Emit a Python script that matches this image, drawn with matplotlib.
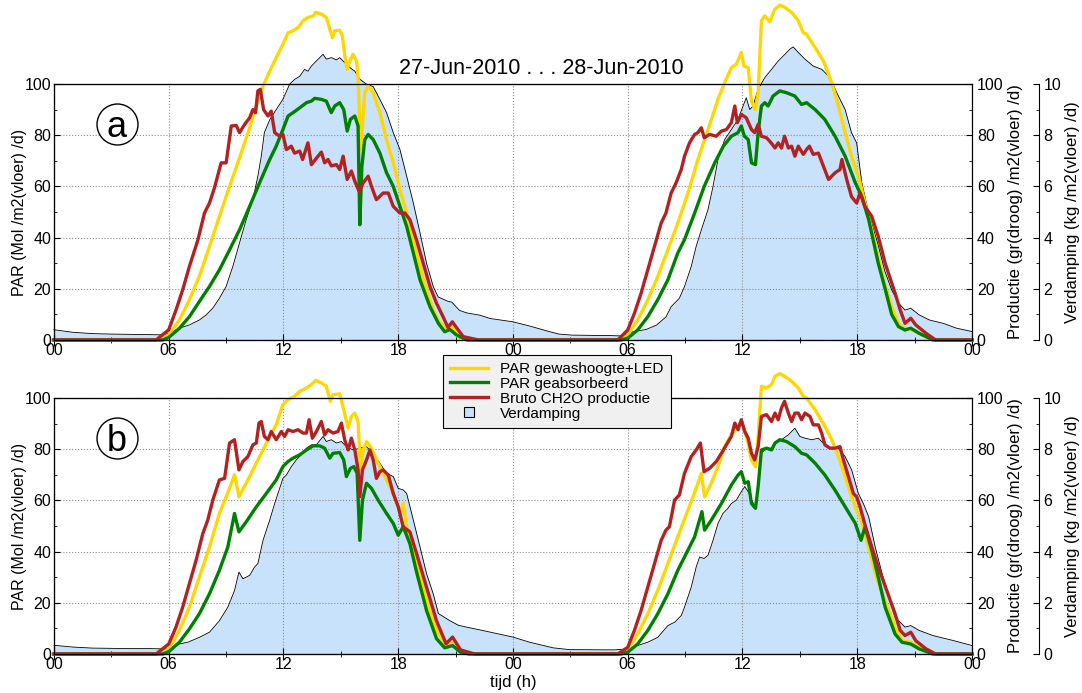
import matplotlib.pyplot as plt
from matplotlib.lines import Line2D
from matplotlib.ticker import MultipleLocator

plt.rcParams['font.family'] = ['Liberation Sans', 'DejaVu Sans']
plt.rcParams['font.size'] = 11

YELLOW = '#FFD700'
GREEN = '#008000'
RED = '#B22222'
BLUE = '#C8E2FC'

hour_labels = ['00', '06', '12', '18', '00', '06', '12', '18', '00']

# ---- paneel a ----
a_led_t = [0, 5.5, 6.0, 6.56, 7.08, 7.6, 8.13, 8.65, 9.18, 9.7, 10.23, 10.58, 10.93, 11.28, 11.62, 11.97,
           12.24, 12.5, 12.76, 13.02, 13.28, 13.55, 13.69, 13.98, 14.24, 14.45, 14.56, 14.68, 14.94, 15.08,
           15.2, 15.33, 15.47, 15.64, 15.82, 15.9, 16.03, 16.13, 16.25, 16.43, 16.69, 17.04, 17.39, 17.74,
           18.09, 18.44, 18.79, 19.14, 19.48, 19.83, 20.15, 20.5, 20.8, 21.2, 21.7,
           29.65, 30.0, 30.52, 31.05, 31.57, 32.1, 32.62, 33.15, 33.67, 34.2, 34.72, 35.07, 35.42, 35.68,
           35.94, 36.08, 36.3, 36.47, 36.68, 36.82, 36.99, 37.17, 37.43, 37.69, 37.95, 38.22, 38.57, 38.92,
           39.18, 39.35, 39.8, 40.23, 40.67, 41.02, 41.37, 41.7, 42.06, 42.41, 42.76, 43.1, 43.44, 43.8,
           44.16, 44.5, 44.7, 45.06, 45.96, 48]
a_led = [0, 0, 2, 7.8, 15.7, 24.8, 36.6, 48.3, 60, 71.1, 82.9, 91.4, 99.2, 105, 110.3, 115.5,
         120, 120.8, 122, 124.7, 126, 126.6, 128, 127.3, 126, 120.8, 118.1, 120.8, 121, 118.8,
         111.6, 105.7, 109, 111.6, 109, 103, 74.4, 83.6, 96.6, 99.2, 96.6, 88.8, 78.3, 69.2,
         58.7, 49.6, 39, 28.7, 19.6, 11.7, 7, 4.5, 5.2, 1, 0,
         0, 2, 7.8, 15.7, 24.8, 35.2, 45.7, 57.4, 70.5, 82.2, 94, 100.5, 106.4, 107.7,
         112.3, 107, 106.4, 93.3, 90, 96.6, 124.7, 126.6, 124.3, 129.2, 130.8, 129.9, 128, 124.7,
         120, 119.5, 114.2, 109, 100.5, 91.4, 81, 71.8, 64, 53.5, 43, 32.6, 22, 13,
         6.5, 4.2, 4.6, 3.3, 0, 0]

a_abs_t = [0, 5.69, 6.0, 6.56, 7.08, 7.6, 8.13, 8.65, 9.18, 9.7, 10.23, 10.75, 11.28, 11.62, 11.97,
           12.24, 12.5, 12.85, 13.2, 13.46, 13.63, 13.98, 14.24, 14.5, 14.68, 14.94, 15.15, 15.33, 15.5,
           15.73, 15.9, 15.99, 16.1, 16.25, 16.43, 16.69, 17.04, 17.39, 17.74, 18.09, 18.44, 18.79, 19.14,
           19.66, 20.1, 20.43, 20.7, 21.04, 21.6,
           29.65, 30.0, 30.52, 31.05, 31.57, 32.1, 32.62, 32.97, 33.5, 34.0, 34.55, 35.0, 35.42, 35.77,
           35.94, 36.1, 36.3, 36.47, 36.68, 36.82, 36.99, 37.17, 37.34, 37.6, 37.95, 38.3, 38.74, 39.09,
           39.35, 39.8, 40.3, 40.84, 41.37, 41.9, 42.24, 42.6, 43.1, 43.46, 43.8, 44.16, 44.5, 44.8,
           45.24, 45.96, 48]
a_abs = [0, 0, 1, 4.6, 9.1, 15, 20.9, 27.4, 35.2, 43, 52.2, 61.4, 70.5, 75.7, 82.2,
         87.5, 88.8, 90.7, 92.7, 93.3, 94.4, 94, 93.3, 88.8, 91.4, 92.7, 90, 81.6, 86.2,
         87.5, 83.6, 45, 67.9, 78.3, 80.3, 78.3, 73, 65.3, 60, 52.2, 44.4, 34, 23.5,
         13, 6.5, 3.2, 4.1, 2, 0,
         0, 0.7, 3.9, 9.1, 15.7, 23.5, 34, 39.2, 49.6, 60, 69.2, 75.7, 79.6, 81,
         83.6, 79.6, 78.3, 69.2, 68.5, 81, 91.4, 92.7, 91.4, 95.3, 97.3, 96.6, 95.3, 92,
         92.7, 90, 86.2, 79.6, 71.8, 61.4, 56, 47, 30, 20, 10, 5.2, 3.9, 4.6,
         2.6, 0, 0]

a_bru_t = [0, 5.34, 6.0, 6.38, 6.73, 7.08, 7.52, 7.87, 8.13, 8.39, 8.74, 9.0, 9.27, 9.53, 9.7, 9.97,
           10.23, 10.4, 10.54, 10.66, 10.79, 10.96, 11.19, 11.36, 11.54, 11.8, 11.97, 12.15, 12.41, 12.58,
           12.85, 13.0, 13.28, 13.46, 13.72, 13.98, 14.15, 14.33, 14.5, 14.77, 14.94, 15.12, 15.33, 15.55,
           15.73, 15.96, 16.17, 16.43, 16.6, 16.86, 17.21, 17.48, 17.74, 18.09, 18.35, 18.61, 18.96, 19.31,
           19.66, 20.0, 20.35, 20.6, 20.83, 21.04, 21.4, 22.2,
           29.48, 30.0, 30.35, 30.7, 31.05, 31.4, 31.75, 32.0, 32.27, 32.53, 32.8, 32.97, 33.23, 33.5,
           33.67, 33.85, 34.0, 34.28, 34.63, 34.9, 35.16, 35.42, 35.6, 35.73, 35.94, 36.2, 36.47, 36.64,
           36.82, 36.99, 37.26, 37.5, 37.7, 37.87, 38.04, 38.2, 38.4, 38.57, 38.74, 38.92, 39.18, 39.35,
           39.5, 39.7, 39.97, 40.23, 40.5, 40.84, 41.1, 41.2, 41.45, 41.7, 41.97, 42.15, 42.4, 42.76,
           43.1, 43.46, 43.98, 44.25, 44.5, 44.8, 45.06, 45.6, 46.1, 48]
a_bru = [0, 0, 4, 11.7, 19.6, 28.7, 39, 49.6, 53.5, 59.4, 69.2, 69.2, 83.6, 83.8, 81, 84.2,
         86.8, 90, 88.8, 97.3, 97.9, 90, 87.5, 89.4, 81, 79.6, 80.3, 74.4, 75.7, 73,
         73.8, 70.5, 77, 68.5, 71, 73.4, 69.2, 70.5, 68, 68.5, 66.6, 71.8, 62.7, 66,
         62, 58, 61.4, 64, 60, 54.8, 57.4, 57.4, 52.2, 49.6, 49.6, 47, 39, 30,
         20.9, 14.4, 9, 4.9, 7.1, 4.9, 1.3, 0,
         0, 3.9, 10.4, 18.3, 27.4, 36.6, 45.7, 49.6, 57.4, 61.4, 66.6, 71.8, 77, 80.3,
         81, 82.9, 79, 80.3, 79.6, 81.6, 82.2, 84.9, 91.4, 84.9, 88.1, 86.8, 82.2, 81,
         84.2, 79.6, 79, 77, 75, 77, 75, 79.6, 75, 75.7, 71.8, 75.7, 72.5, 74.4,
         75.7, 72.5, 73, 67.9, 62.7, 65.3, 66.6, 70.5, 62.7, 56, 53.5, 57.4, 52.2, 48.3,
         40.5, 30, 18.3, 11.7, 6.5, 8.5, 5.9, 2.6, 0, 0]

a_verd_t = [0, 1, 2, 3, 4, 5, 5.7, 6.0, 6.56, 7.08, 7.6, 7.96, 8.3, 8.65, 9.0, 9.35, 9.7, 10.05,
            10.4, 10.66, 10.84, 11.0, 11.28, 11.62, 11.97, 12.32, 12.58, 12.85, 13.1, 13.28, 13.46,
            13.72, 14.07, 14.24, 14.5, 14.77, 14.94, 15.2, 15.47, 15.73, 16.0, 16.35, 16.69, 17.04,
            17.39, 17.74, 18.09, 18.44, 18.79, 19.14, 19.48, 19.83, 20.09, 20.6, 20.8, 21.2, 21.57,
            22.26, 22.8, 24, 24.9, 25.74, 26.4, 27.1, 29.2, 29.56, 30.0, 30.26, 30.96, 31.5,
            32.0, 32.27, 32.45, 32.7, 32.97, 33.32, 33.58, 33.85, 34.2, 34.46, 34.72, 35.07, 35.42,
            35.77, 36.03, 36.2, 36.38, 36.55, 36.82, 37.17, 37.52, 37.87, 38.22, 38.48, 38.65, 38.92,
            39.27, 39.7, 40.15, 40.58, 40.93, 41.37, 41.7, 41.97, 42.24, 42.6, 43.1, 43.44, 43.8,
            44.16, 44.5, 44.8, 45.24, 45.78, 46.5, 47.2, 48]
a_verd = [0.40, 0.30, 0.25, 0.23, 0.22, 0.21, 0.20, 0.26, 0.46, 0.59, 0.78, 0.98, 1.24, 1.63, 2.09, 2.87,
          3.79, 4.70, 5.48, 6.40, 7.18, 8.10, 8.60, 9.00, 9.40, 9.99, 10.18, 10.30, 10.57, 10.50, 10.70,
          10.90, 11.16, 10.97, 11.03, 10.94, 11.03, 10.84, 10.64, 10.50, 10.18, 9.99, 9.90, 9.40,
          8.88, 8.10, 7.44, 6.40, 5.35, 4.18, 3.00, 2.09, 1.68, 1.51, 1.48, 1.16, 1.06,
          0.97, 0.84, 0.71, 0.54, 0.36, 0.23, 0.19, 0.17, 0.16, 0.22, 0.32, 0.41, 0.58,
          0.90, 1.30, 1.44, 1.63, 2.09, 2.87, 3.66, 4.30, 5.10, 6.00, 7.05, 7.83, 8.22,
          8.62, 9.14, 9.46, 9.00, 9.14, 9.80, 10.25, 10.57, 10.90, 11.16, 11.36, 11.45, 11.23,
          10.97, 10.70, 10.57, 10.25, 9.66, 9.00, 8.10, 7.70, 6.14, 4.96, 3.70, 2.70, 1.96,
          1.44, 1.17, 1.24, 0.98, 0.78, 0.65, 0.46, 0.33]

# ---- paneel b ----
b_led_t = [0, 5.51, 6.0, 6.56, 7.08, 7.6, 8.13, 8.65, 9.18, 9.44, 9.67, 10.05, 10.49, 10.93, 11.28,
           11.62, 11.97, 12.24, 12.58, 12.85, 13.2, 13.46, 13.69, 13.98, 14.24, 14.45, 14.59, 14.94,
           15.15, 15.38, 15.55, 15.73, 15.9, 16.03, 16.17, 16.34, 16.6, 16.86, 17.13, 17.39, 17.74,
           18.0, 18.17, 18.26, 18.44, 18.7, 19.05, 19.48, 20.0, 20.5, 20.84, 21.26, 21.7,
           29.65, 30.0, 30.52, 31.05, 31.57, 32.1, 32.62, 33.15, 33.67, 33.85, 34.02, 34.37, 34.72,
           35.07, 35.42, 35.68, 35.94, 36.12, 36.3, 36.47, 36.68, 36.82, 36.99, 37.26, 37.52, 37.7,
           37.95, 38.2, 38.57, 38.92, 39.18, 39.35, 39.8, 40.31, 40.67, 41.02, 41.37, 41.71, 41.97,
           42.15, 42.6, 42.94, 43.44, 43.98, 44.34, 44.8, 45.24, 45.96, 48]
b_led = [0, 0, 2, 9.2, 18.3, 30, 41.8, 54.9, 64.7, 70, 61.4, 66.7, 73.2, 79.7, 85,
         89.5, 97.4, 99.3, 100.7, 102.6, 103.9, 105.2, 106.9, 105.9, 104.6, 98.7, 101.3, 101.6,
         95.4, 88.2, 92.8, 94.1, 90.8, 71.9, 79.7, 83, 80.4, 75.8, 71.9, 68, 62.7,
         57.5, 55.6, 58.8, 49.7, 43.1, 34, 20.9, 9.2, 3.5, 4.5, 1, 0,
         0, 1.6, 7.8, 15.7, 24.8, 35.3, 45.8, 56.2, 66.7, 70.6, 61.4, 66.7, 73.2,
         81, 85.6, 88.2, 90.8, 86.9, 82.4, 75.8, 73.2, 85, 104.6, 103.9, 105.2, 108.5,
         109.5, 108.5, 106.5, 103.9, 100.7, 100, 95.4, 88.9, 83.7, 77.1, 69.3, 61.4, 56.2,
         53.6, 41.8, 31.4, 21, 10.5, 5.2, 4.6, 2.6, 0, 0]

b_abs_t = [0, 5.69, 6.0, 6.56, 7.08, 7.6, 8.13, 8.65, 9.09, 9.44, 9.67, 10.05, 10.58, 11.1, 11.62,
           11.97, 12.24, 12.5, 12.85, 13.2, 13.55, 13.9, 14.15, 14.42, 14.59, 14.94, 15.15, 15.29,
           15.5, 15.68, 15.85, 15.99, 16.13, 16.34, 16.6, 16.95, 17.39, 17.74, 18.0, 18.26, 18.61,
           18.96, 19.48, 20.0, 20.43, 20.84, 21.26, 21.7,
           29.65, 30.0, 30.52, 31.05, 31.57, 32.1, 32.62, 32.97, 33.5, 33.88, 34.02, 34.37, 34.9,
           35.42, 35.77, 35.94, 36.12, 36.3, 36.47, 36.68, 36.82, 36.99, 37.26, 37.52, 37.7, 37.95,
           38.3, 38.74, 39.09, 39.35, 39.8, 40.31, 40.84, 41.37, 41.9, 42.2, 42.41, 42.76, 43.1,
           43.46, 43.98, 44.34, 44.8, 45.24, 45.96, 48]
b_abs = [0, 0, 0.9, 4.6, 9.8, 15.7, 23.5, 32.7, 41.8, 54.9, 47.7, 51.6, 57.5, 62.7, 68,
         73.2, 75.2, 76.5, 77.8, 79.7, 81.3, 81.3, 80.4, 76.5, 78.4, 78.7, 75.8, 69.3,
         72.5, 73.2, 70.6, 44.4, 60.1, 66.7, 64.7, 60.1, 54.9, 51, 46.4, 49.7, 43.1,
         32, 17, 6, 2.4, 3.3, 0.7, 0,
         0, 0.7, 3.9, 9.2, 15.7, 23.5, 32.7, 37.9, 45.8, 55.6, 48.4, 52.3, 58.8,
         66, 69.9, 71.2, 66.7, 67.3, 58.8, 56.9, 65.4, 79.7, 80.4, 79.7, 82.4, 83.7,
         83, 81, 78.4, 77.8, 74.5, 69.9, 64, 57.5, 51, 44.4, 49.7, 40.5, 30,
         18.3, 7.8, 4.6, 3.9, 2, 0, 0]

b_bru_t = [0, 5.34, 6.0, 6.38, 6.73, 7.08, 7.43, 7.78, 8.04, 8.3, 8.65, 8.92, 9.18, 9.44, 9.67,
           9.88, 10.14, 10.4, 10.58, 10.72, 10.84, 11.0, 11.19, 11.36, 11.62, 11.89, 12.06, 12.24,
           12.5, 12.76, 13.02, 13.2, 13.34, 13.51, 13.72, 13.98, 14.15, 14.33, 14.59, 14.85, 15.03,
           15.2, 15.38, 15.55, 15.73, 15.9, 15.99, 16.13, 16.34, 16.52, 16.69, 16.86, 17.04, 17.21,
           17.48, 17.74, 18.0, 18.26, 18.61, 18.96, 19.48, 20.0, 20.5, 20.84, 21.26, 22.0,
           29.48, 30.0, 30.35, 30.7, 31.05, 31.4, 31.75, 32.0, 32.18, 32.45, 32.7, 32.97, 33.32,
           33.58, 33.8, 33.99, 34.28, 34.63, 34.9, 35.16, 35.42, 35.6, 35.77, 35.94, 36.12, 36.3,
           36.47, 36.64, 36.82, 36.99, 37.26, 37.52, 37.7, 37.87, 38.04, 38.2, 38.4, 38.57, 38.74,
           38.92, 39.09, 39.27, 39.53, 39.7, 39.97, 40.14, 40.31, 40.58, 40.84, 41.1, 41.28, 41.54,
           41.8, 41.97, 42.15, 42.41, 42.76, 43.1, 43.44, 43.98, 44.25, 44.5, 44.8, 45.06, 45.6,
           46.1, 48]
b_bru = [0, 0, 3.9, 10.5, 18.3, 27.5, 36.6, 47, 52.3, 60, 68, 68.6, 82.4, 83.7, 71.9,
         75.2, 77.1, 81.7, 82.4, 90.2, 90.8, 85, 83.7, 86.9, 83.7, 86.9, 85, 87.6,
         86.9, 87.6, 86.3, 86.3, 91.5, 84.3, 86.9, 90.8, 85.6, 87.6, 86.3, 86.9, 90.2,
         83.7, 79.7, 84.3, 79.7, 71.9, 61.4, 71.9, 75.8, 79.7, 75.8, 68.6, 71.2, 71.9,
         69.9, 62.7, 57.5, 49.7, 47.7, 39.2, 26.1, 13, 4, 6.6, 1.6, 0,
         0, 2.6, 9.2, 17, 26.1, 35.3, 44.4, 48.4, 49.7, 60.1, 62.1, 70.6, 77.1,
         79.7, 82.4, 71.2, 72.5, 75.2, 78.4, 81.7, 85, 90.2, 87.6, 91.5, 86.9, 84.3,
         78.4, 75.8, 81, 92.8, 93.5, 90.8, 94.1, 91.5, 96.1, 98.7, 94.1, 90.8, 94.1,
         94.1, 91.5, 94.1, 92.8, 89.5, 89.5, 86.3, 81.7, 80.4, 80.4, 81, 75.8, 69.3,
         62.7, 61.4, 57.5, 50.3, 41.8, 34, 27, 15.7, 9.2, 7.2, 8.5, 5.2, 2,
         0, 0]

b_verd_t = [0, 1, 2, 3, 4, 5, 5.7, 6.0, 6.56, 7.0, 7.6, 8.13, 8.65, 9.09, 9.44, 9.67, 9.88, 10.23,
            10.49, 10.66, 10.93, 11.28, 11.54, 11.8, 11.97, 12.15, 12.41, 12.67, 12.93, 13.2, 13.46,
            13.72, 14.07, 14.24, 14.5, 14.77, 15.03, 15.29, 15.64, 15.99, 16.34, 16.69, 17.04, 17.39,
            17.74, 18.0, 18.26, 18.44, 18.79, 19.14, 19.48, 19.83, 20.1, 20.7, 21.15, 21.57, 22.4,
            23.2, 24, 24.87, 26.1, 26.96, 29.3, 30.0, 30.52, 31.05, 31.57, 32.1, 32.45, 32.8,
            32.97, 33.32, 33.58, 33.76, 33.99, 34.2, 34.46, 34.72, 34.98, 35.24, 35.42, 35.68, 35.94,
            36.12, 36.3, 36.47, 36.68, 36.82, 36.99, 37.26, 37.52, 37.78, 38.04, 38.4, 38.74, 39.0,
            39.27, 39.62, 39.97, 40.31, 40.67, 41.02, 41.37, 41.71, 42.06, 42.32, 42.6, 42.94, 43.3,
            43.98, 44.5, 44.8, 45.24, 45.96, 47.05, 48]
b_verd = [0.34, 0.27, 0.23, 0.22, 0.21, 0.21, 0.20, 0.22, 0.39, 0.46, 0.65, 0.85, 1.30, 1.83, 2.48, 3.20,
          2.94, 3.07, 3.40, 3.53, 4.44, 5.23, 5.88, 6.47, 6.86, 6.99, 7.32, 7.58, 7.78, 8.04, 8.17,
          8.17, 8.50, 8.30, 8.37, 8.24, 8.30, 8.10, 7.97, 8.04, 8.10, 7.84, 7.45, 7.06,
          6.93, 6.47, 6.41, 6.27, 5.23, 4.18, 3.14, 2.35, 1.58, 1.30, 1.12, 1.05, 0.92,
          0.79, 0.66, 0.46, 0.24, 0.17, 0.16, 0.20, 0.33, 0.46, 0.65, 1.11, 1.24, 1.50,
          1.83, 2.61, 3.40, 3.79, 3.73, 3.86, 4.44, 5.10, 5.49, 5.69, 5.88, 6.01, 6.34,
          6.54, 6.34, 6.01, 5.75, 6.80, 7.84, 8.04, 8.04, 8.30, 8.37, 8.56, 8.82, 8.50,
          8.43, 8.37, 8.43, 8.17, 8.04, 8.04, 7.71, 7.19, 6.27, 5.88, 5.36, 4.18, 3.14,
          1.44, 1.05, 1.11, 0.92, 0.72, 0.52, 0.33]


def draw_panel(rect, led_t, led, abs_t, absorbed, bru_t, bruto, verd_t, verd, letter, xlabel=False):
    ax = fig.add_axes(rect)
    ax_v = ax.twinx()   # verdamping, buitenste as, onderop getekend
    ax_p = ax.twinx()   # productie
    ax_v.set_zorder(1)
    ax.set_zorder(2)
    ax_p.set_zorder(3)
    ax.patch.set_visible(False)

    ax_v.spines['right'].set_position(('outward', 48))
    ax_v.fill_between(verd_t, verd, color=BLUE, lw=0, clip_on=False)
    ax_v.plot(verd_t, verd, color='black', lw=0.6, clip_on=False)
    ax_v.set_ylim(0, 10)
    ax_v.yaxis.set_major_locator(MultipleLocator(2))
    ax_v.yaxis.set_minor_locator(MultipleLocator(1))
    ax_v.xaxis.set_visible(True)
    ax_v.tick_params(axis='x', which='both', length=0, labelbottom=False, labeltop=False)
    ax_v.tick_params(axis='y', which='both', direction='in')
    ax_v.grid(True, which='major', ls=':', color='#8c8c8c', lw=0.8)
    ax_v.set_ylabel('Verdamping (kg /m2(vloer) /d)', labelpad=3, fontsize=12)

    ax.plot(led_t, led, color=YELLOW, lw=2.4, clip_on=False)
    ax.plot(abs_t, absorbed, color=GREEN, lw=2.4, clip_on=False)
    ax_p.plot(bru_t, bruto, color=RED, lw=2.4, clip_on=False)

    ax.set_xlim(0, 48)
    ax.set_ylim(0, 100)
    ax_p.set_ylim(0, 100)
    ax.set_xticks(range(0, 49, 6))
    ax.set_xticklabels(hour_labels)
    ax.xaxis.set_minor_locator(MultipleLocator(3))
    for a in (ax, ax_p):
        a.yaxis.set_major_locator(MultipleLocator(20))
        a.yaxis.set_minor_locator(MultipleLocator(10))
    ax.tick_params(which='both', direction='in', top=False, right=False, pad=2)
    ax_p.tick_params(which='both', direction='in')
    for a in (ax, ax_p, ax_v):
        a.tick_params(which='major', length=4, labelsize=11.5)
        a.tick_params(which='minor', length=2.5)

    ax.set_ylabel('PAR (Mol /m2(vloer) /d)', labelpad=-2, fontsize=11.5)
    ax_p.set_ylabel('Productie (gr(droog) /m2(vloer) /d)', labelpad=3, fontsize=12)
    if xlabel:
        ax.set_xlabel('tijd (h)', labelpad=2, fontsize=12)

    ax.plot([0.0686], [0.844], marker='o', ms=29.5, mfc='white', mec='black', mew=1,
            transform=ax.transAxes, clip_on=False, zorder=5)
    ax.text(0.0686, 0.844, letter, transform=ax.transAxes, ha='center', va='center_baseline',
            fontsize=26, zorder=6)
    return ax


fig = plt.figure(figsize=(10.82, 6.93), dpi=100)

draw_panel([0.0499, 0.5094, 0.8484, 0.3694], a_led_t, a_led, a_abs_t, a_abs, a_bru_t, a_bru,
           a_verd_t, a_verd, 'a')
draw_panel([0.0499, 0.0563, 0.8484, 0.3694], b_led_t, b_led, b_abs_t, b_abs, b_bru_t, b_bru,
           b_verd_t, b_verd, 'b', xlabel=True)

fig.text(0.5, 1 - 69 / 693, '27-Jun-2010 . . . 28-Jun-2010', ha='center', va='center', fontsize=15.5)

handles = [Line2D([], [], color=YELLOW, lw=2.4),
           Line2D([], [], color=GREEN, lw=2.4),
           Line2D([], [], color=RED, lw=2.4),
           Line2D([], [], ls='None', marker='s', ms=6.5, mfc=BLUE, mec='black', mew=0.8)]
labels = ['PAR gewashoogte+LED', 'PAR geabsorbeerd', 'Bruto CH2O productie', 'Verdamping']
leg = fig.legend(handles, labels, loc='upper left', bbox_to_anchor=(443 / 1082, 1 - 355 / 693),
                 fontsize=11, frameon=True, fancybox=False, framealpha=1, edgecolor='black',
                 facecolor='#f0f0f0', handlelength=2.5, handletextpad=0.8, labelspacing=0.06,
                 borderpad=0.45, borderaxespad=0)
leg.get_frame().set_linewidth(0.8)
leg.set_zorder(10)

fig.savefig('out.png', dpi=100)
